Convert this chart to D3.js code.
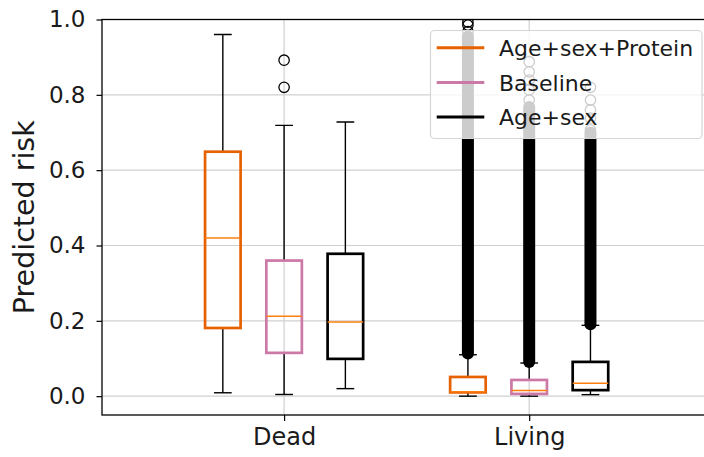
<!DOCTYPE html>
<html>
<head>
<meta charset="utf-8">
<script src="https://cdn.jsdelivr.net/npm/d3@7"></script>
<style>
  html, body { margin: 0; padding: 0; background: #fff; }
  svg { display: block; font-family: "DejaVu Sans", sans-serif; }
</style>
</head>
<body>
<svg id="chart" width="704" height="457"></svg>
<script>
// Groups on the x axis and the three models compared in each group
const categories = ["Dead", "Living"];
const seriesNames = ["Age+sex+Protein", "Baseline", "Age+sex"];

// Box statistics per group: [whisker low, Q1, median, Q3, whisker high]
const proteinStats  = [[0.009, 0.181, 0.420, 0.649, 0.960], [0.000, 0.010, 0.012, 0.051, 0.110]];
const baselineStats = [[0.0045, 0.115, 0.212, 0.360, 0.719], [0.000, 0.006, 0.015, 0.043, 0.088]];
const ageSexStats   = [[0.020, 0.099, 0.197, 0.378, 0.728], [0.004, 0.016, 0.034, 0.091, 0.188]];

// Individually visible outliers per group
const proteinFliers  = [[], [0.968, 0.985, 0.993]];
const baselineFliers = [[0.820, 0.892], [0.786, 0.813, 0.839, 0.861, 0.888]];
const ageSexFliers   = [[], [0.707, 0.738, 0.760, 0.786, 0.820]];

// Ranges so densely packed with outliers that they merge into a solid column
const proteinFlierRuns  = [null, [0.113, 0.955]];
const baselineFlierRuns = [null, [0.091, 0.768]];
const ageSexFlierRuns   = [null, [0.191, 0.700]];

const yTicks = [0.0, 0.2, 0.4, 0.6, 0.8, 1.0];

const stats = [proteinStats, baselineStats, ageSexStats];
const fliers = [proteinFliers, baselineFliers, ageSexFliers];
const flierRuns = [proteinFlierRuns, baselineFlierRuns, ageSexFlierRuns];
const boxColors = ["#e66100", "#cc79a7", "#000000"];
const medianColor = "#ff7f0e";
const offsets = [-0.25, 0, 0.25];
const boxWidth = 0.145;

const svg = d3.select("#chart");
const plot = { left: 102, right: 713, top: 19.5, bottom: 415 };

const x = d3.scaleLinear().domain([0.257, 2.75]).range([plot.left, plot.right]);
const y = d3.scaleLinear().domain([-0.05, 1.0]).range([plot.bottom, plot.top]);

svg.append("defs").append("clipPath").attr("id", "plotClip")
  .append("rect")
  .attr("x", plot.left).attr("y", plot.top)
  .attr("width", plot.right - plot.left).attr("height", plot.bottom - plot.top);

// Grid
const grid = svg.append("g").attr("stroke", "#d0d0d0").attr("stroke-width", 1.2);
grid.selectAll("line.h").data(yTicks).join("line")
  .attr("x1", plot.left).attr("x2", plot.right)
  .attr("y1", d => y(d)).attr("y2", d => y(d));
grid.selectAll("line.v").data(categories).join("line")
  .attr("x1", (d, i) => x(i + 1)).attr("x2", (d, i) => x(i + 1))
  .attr("y1", plot.top).attr("y2", plot.bottom);

const marks = svg.append("g").attr("clip-path", "url(#plotClip)");

seriesNames.forEach((name, s) => {
  categories.forEach((cat, c) => {
    const [lo, q1, med, q3, hi] = stats[s][c];
    const cx = x(c + 1 + offsets[s]);
    const halfW = (x(boxWidth) - x(0)) / 2;
    const capW = halfW / 2;
    const g = marks.append("g");

    // dense outlier column
    const run = flierRuns[s][c];
    if (run) {
      g.append("line")
        .attr("x1", cx).attr("x2", cx)
        .attr("y1", y(run[0])).attr("y2", y(run[1]))
        .attr("stroke", "#000").attr("stroke-width", 12)
        .attr("stroke-linecap", "round");
    }
    // individual outliers
    g.selectAll("circle").data(fliers[s][c]).join("circle")
      .attr("cx", cx).attr("cy", d => y(d)).attr("r", 5.2)
      .attr("fill", "none").attr("stroke", "#000").attr("stroke-width", 1.3);

    // whiskers and caps
    const wk = g.append("g").attr("stroke", "#000").attr("stroke-width", 1.4);
    wk.append("line").attr("x1", cx).attr("x2", cx).attr("y1", y(q1)).attr("y2", y(lo));
    wk.append("line").attr("x1", cx).attr("x2", cx).attr("y1", y(q3)).attr("y2", y(hi));
    wk.append("line").attr("x1", cx - capW).attr("x2", cx + capW).attr("y1", y(lo)).attr("y2", y(lo));
    wk.append("line").attr("x1", cx - capW).attr("x2", cx + capW).attr("y1", y(hi)).attr("y2", y(hi));

    // box
    g.append("rect")
      .attr("x", cx - halfW).attr("width", 2 * halfW)
      .attr("y", y(q3)).attr("height", y(q1) - y(q3))
      .attr("fill", "none").attr("stroke", boxColors[s]).attr("stroke-width", 2.7);
    // median
    g.append("line")
      .attr("x1", cx - halfW).attr("x2", cx + halfW)
      .attr("y1", y(med)).attr("y2", y(med))
      .attr("stroke", medianColor).attr("stroke-width", 1.5);
  });
});

// Axes
const yAxis = d3.axisLeft(y).tickValues(yTicks).tickFormat(d3.format(".1f")).tickSize(5.5).tickPadding(11);
const yG = svg.append("g").attr("transform", `translate(${plot.left},0)`).call(yAxis);
const xAxis = d3.axisBottom(x).tickValues([1, 2]).tickFormat((d, i) => categories[i]).tickSize(6).tickPadding(8);
const xG = svg.append("g").attr("transform", `translate(0,${plot.bottom})`).call(xAxis);
[yG, xG].forEach(g => {
  g.select(".domain").remove();
  g.selectAll(".tick line").attr("stroke", "#000").attr("stroke-width", 1.2);
  g.selectAll(".tick text").attr("fill", "#1a1a1a").attr("font-family", "DejaVu Sans");
});
yG.selectAll(".tick text").attr("font-size", 23);
xG.selectAll(".tick text").attr("font-size", 24).attr("dy", "0.68em");

// Spines
svg.append("rect")
  .attr("x", plot.left).attr("y", plot.top)
  .attr("width", plot.right - plot.left).attr("height", plot.bottom - plot.top)
  .attr("fill", "none").attr("stroke", "#000").attr("stroke-width", 1.3);

// Y label
svg.append("text")
  .attr("transform", `translate(34,${(plot.top + plot.bottom) / 2}) rotate(-90)`)
  .attr("text-anchor", "middle")
  .attr("font-size", 28.5).attr("fill", "#1a1a1a")
  .text("Predicted risk");

// Legend
const legend = svg.append("g");
legend.append("rect")
  .attr("x", 430.5).attr("y", 30.5).attr("width", 271.5).attr("height", 108)
  .attr("rx", 4).attr("ry", 4)
  .attr("fill", "#fff").attr("fill-opacity", 0.8)
  .attr("stroke", "#d6d6d6").attr("stroke-width", 1.2);
const rowY = [47.7, 82.4, 117.1];
seriesNames.forEach((name, i) => {
  legend.append("line")
    .attr("x1", 436.7).attr("x2", 484.3)
    .attr("y1", rowY[i]).attr("y2", rowY[i])
    .attr("stroke", boxColors[i]).attr("stroke-width", 3);
  legend.append("text")
    .attr("x", 499).attr("y", rowY[i] + 8.2)
    .attr("font-size", 22).attr("fill", "#1a1a1a")
    .text(name);
});
</script>
</body>
</html>
